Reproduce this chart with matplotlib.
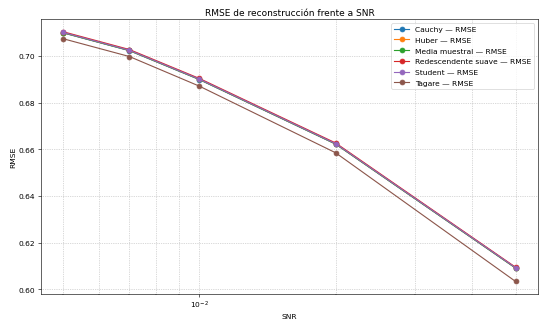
import matplotlib
matplotlib.use("Agg")
import matplotlib.pyplot as plt

# SNR levels evaluated (log scale)
snr = [0.005, 0.007, 0.01, 0.02, 0.05]

# RMSE per estimator
rmse_cauchy = [0.7098, 0.7022, 0.6898, 0.6622, 0.6091]
rmse_huber = [0.7099, 0.7023, 0.6899, 0.6623, 0.6092]
rmse_media = [0.7099, 0.7023, 0.6899, 0.6623, 0.6092]
rmse_redesc = [0.7103, 0.7027, 0.6903, 0.6627, 0.6095]
rmse_student = [0.7100, 0.7024, 0.6900, 0.6624, 0.6093]
rmse_tagare = [0.7073, 0.6997, 0.6870, 0.6585, 0.6034]

series = [
    ("Cauchy", rmse_cauchy),
    ("Huber", rmse_huber),
    ("Media muestral", rmse_media),
    ("Redescendente suave", rmse_redesc),
    ("Student", rmse_student),
    ("Tagare", rmse_tagare),
]

fig = plt.figure(figsize=(10, 5.974), dpi=53.9)
ax = fig.add_axes([0.0755, 0.084, 0.923, 0.853])

for name, vals in series:
    ax.plot(snr, vals, marker="o", markersize=6.5, label=f"{name} — RMSE")

ax.set_xscale("log")
ax.set_title("RMSE de reconstrucción frente a SNR", fontsize=12)
ax.set_xlabel("SNR")
ax.set_ylabel("RMSE")
ax.grid(True, which="both", linestyle=":", color="#b0b0b0", linewidth=0.9)
ax.legend(loc="upper right", fontsize=10, labelspacing=0.6)

fig.savefig("out.png", dpi=53.9)
